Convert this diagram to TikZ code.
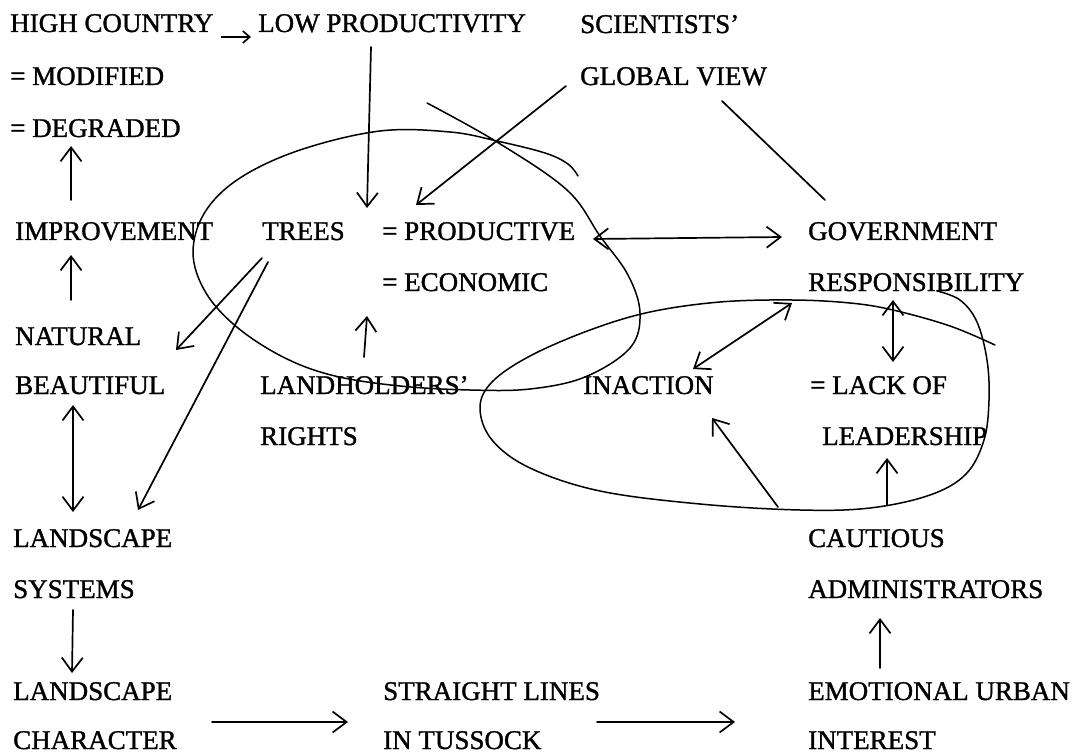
\documentclass[tikz,border=0pt]{standalone}
\usepackage{fontspec}
\setmainfont{Liberation Serif}
\newfontfamily\scanfont{Liberation Serif}[FakeBold=1.2,Ligatures=TeX]
\usetikzlibrary{arrows.meta}
\begin{document}
\begin{tikzpicture}[x=1pt,y=-1pt,
  lbl/.style={anchor=base west, inner sep=0pt, font=\scanfont\fontsize{27}{30}\selectfont},
  barb/.style={-{Straight Barb[length=14pt,width=21pt,line width=1.7pt]}},
  conn/.style={line width=1.7pt, line cap=round, barb},
  bothconn/.style={line width=1.7pt, line cap=round, {Straight Barb[length=14pt,width=21pt,line width=1.7pt]}-{Straight Barb[length=14pt,width=21pt,line width=1.7pt]}},
  plainconn/.style={line width=1.7pt, line cap=round},
  smallconn/.style={line width=1.6pt, -{Straight Barb[length=7pt,width=12pt,line width=1.6pt]}},
  loop/.style={line width=1.5pt, line cap=round}]
\useasboundingbox[fill=white] (0,0) rectangle (1081,754);

% texts
\node[lbl] (hc) at (10,32) {HIGH COUNTRY};
\node[lbl] (lp) at (258,32) {LOW PRODUCTIVITY};
\node[lbl] (sci) at (580,33) {SCIENTISTS’};
\node[lbl] (mod) at (10,85) {= MODIFIED};
\node[lbl] (glob) at (580,85) {GLOBAL VIEW};
\node[lbl] (deg) at (10,137) {= DEGRADED};
\node[lbl] (imp) at (15,240) {IMPROVEMENT};
\node[lbl] (trees) at (262,240) {TREES};
\node[lbl] (prod) at (382,240) {= PRODUCTIVE};
\node[lbl] (gov) at (808,240) {GOVERNMENT};
\node[lbl] (econ) at (382,291) {= ECONOMIC};
\node[lbl] (resp) at (808,291) {RESPONSIBILITY};
\node[lbl] (nat) at (15,345) {NATURAL};
\node[lbl] (beau) at (15,394) {BEAUTIFUL};
\node[lbl] (land) at (260,394) {LANDHOLDERS’};
\node[lbl] (inact) at (583,394) {INACTION};
\node[lbl] (lack) at (810,394) {= LACK OF};
\node[lbl] (rights) at (260,445) {RIGHTS};
\node[lbl] (lead) at (822,445) {LEADERSHIP};
\node[lbl] (ls1) at (13,547) {LANDSCAPE};
\node[lbl] (caut) at (808,547) {CAUTIOUS};
\node[lbl] (sys) at (13,598) {SYSTEMS};
\node[lbl] (adm) at (808,598) {ADMINISTRATORS};
\node[lbl] (ls2) at (13,700) {LANDSCAPE};
\node[lbl] (strl) at (383,700) {STRAIGHT LINES};
\node[lbl] (emo) at (808,700) {EMOTIONAL URBAN};
\node[lbl] (charc) at (13,749) {CHARACTER};
\node[lbl] (tus) at (383,749) {IN TUSSOCK};
\node[lbl] (intr) at (808,749) {INTEREST};

% connector end points
\coordinate (hcE) at (221,37);   \coordinate (lpW) at (251,37);
\coordinate (lpS) at (371,47);   \coordinate (prodN) at (367,208);
\coordinate (globSW) at (566,86); \coordinate (prodNE) at (416,205);
\coordinate (globS) at (722,101); \coordinate (govN) at (825,200);
\coordinate (prodE) at (593,239); \coordinate (govW) at (782,237);
\coordinate (impN) at (71,200);  \coordinate (degS) at (71,146);
\coordinate (natN) at (71,300);  \coordinate (impS) at (71,255);
\coordinate (treesS1) at (262,258); \coordinate (beauNE) at (176,350);
\coordinate (treesS2) at (268,262); \coordinate (ls1NE) at (138,510);
\coordinate (landN) at (364,357); \coordinate (econS) at (367,316);
\coordinate (beauS) at (73,405); \coordinate (ls1N) at (73,512);
\coordinate (sysS) at (73,610);  \coordinate (ls2N) at (72,673);
\coordinate (charcE) at (212,722); \coordinate (strlW) at (348,722);
\coordinate (strlE) at (597,722); \coordinate (emoW) at (735,722);
\coordinate (emoN) at (880,668); \coordinate (admS) at (880,618);
\coordinate (cautNW) at (778,507); \coordinate (inactSE) at (712,418);
\coordinate (cautN) at (887,505); \coordinate (leadS) at (887,458);
\coordinate (inactNE) at (693,369); \coordinate (respSW) at (792,303);
\coordinate (respS) at (893,300); \coordinate (lackN) at (893,362);

% connectors
\draw[smallconn] (hcE) -- (lpW);
\draw[conn] (lpS) -- (prodN);
\draw[conn] (globSW) -- (prodNE);
\draw[plainconn] (globS) -- (govN);
\draw[bothconn] (prodE) -- (govW);
\draw[conn] (impN) -- (degS);
\draw[conn] (natN) -- (impS);
\draw[conn] (treesS1) -- (beauNE);
\draw[conn] (treesS2) -- (ls1NE);
\draw[conn] (landN) -- (econS);
\draw[bothconn] (beauS) -- (ls1N);
\draw[conn] (sysS) -- (ls2N);
\draw[conn] (charcE) -- (strlW);
\draw[conn] (strlE) -- (emoW);
\draw[conn] (emoN) -- (admS);
\draw[conn] (cautNW) -- (inactSE);
\draw[conn] (cautN) -- (leadS);
\draw[bothconn] (inactNE) -- (respSW);
\draw[bothconn] (respS) -- (lackN);

% hand-drawn loops
\draw[loop] plot[smooth, tension=0.6] coordinates {
  (427,103) (497,142) (567,190) (600,236) (628,275) (640,313) (630,348)
  (585,377) (530,389) (470,390) (400,386) (335,376) (285,358) (238,328)
  (206,293) (193,253) (205,212) (240,178) (300,150) (380,131) (450,132)
  (497,141) (545,153) (568,164) (578,176)};
\draw[loop] plot[smooth, tension=0.6] coordinates {
  (995,345) (950,326) (893,310) (850,303) (792,300) (720,302) (650,312)
  (590,330) (530,356) (492,382) (480,408) (492,440) (530,468) (600,491)
  (700,504) (800,510) (870,508) (930,495) (966,474) (984,440) (989,400)
  (987,360) (977,322) (960,300) (937,291)};
\end{tikzpicture}
\end{document}
